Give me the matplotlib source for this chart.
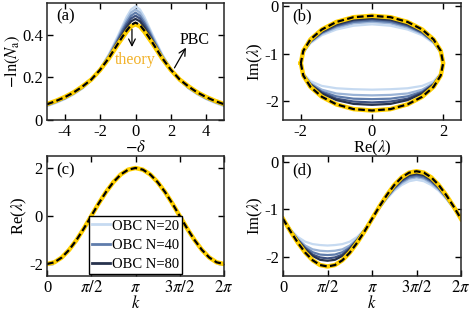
import numpy as np
import matplotlib
matplotlib.use("Agg")
import matplotlib.pyplot as plt

plt.rcParams['font.family'] = ['Liberation Serif', 'DejaVu Serif']
plt.rcParams['mathtext.fontset'] = 'stix'
plt.rcParams['axes.unicode_minus'] = False
plt.rcParams['font.size'] = 12

# ---- panel (a): -ln(Na) vs -delta ----
delta = [-5, -4.5, -4, -3.5, -3, -2.5, -2, -1.5, -1, -0.75, -0.5, -0.25, 0,
         0.25, 0.5, 0.75, 1, 1.5, 2, 2.5, 3, 3.5, 4, 4.5, 5]
lnNa_theory = [.075, .09, .108, .13, .158, .19, .235, .29, .355, .385, .415, .44, .45,
               .44, .415, .385, .355, .29, .235, .19, .158, .13, .108, .09, .075]
lnNa_pbc = [.074, .089, .107, .129, .157, .19, .236, .292, .358, .39, .42, .447, .458,
            .447, .42, .39, .358, .292, .236, .19, .157, .129, .107, .089, .074]
lnNa_obc = {
    20: [.065, .08, .098, .12, .148, .185, .24, .31, .395, .44, .485, .52, .535,
         .52, .485, .44, .395, .31, .24, .185, .148, .12, .098, .08, .065],
    30: [.068, .083, .10, .123, .15, .187, .24, .305, .385, .43, .47, .505, .52,
         .505, .47, .43, .385, .305, .24, .187, .15, .123, .10, .083, .068],
    40: [.07, .085, .102, .125, .152, .188, .238, .30, .378, .42, .458, .49, .505,
         .49, .458, .42, .378, .30, .238, .188, .152, .125, .102, .085, .07],
    60: [.072, .087, .104, .127, .154, .189, .237, .297, .371, .41, .447, .477, .49,
         .477, .447, .41, .371, .297, .237, .189, .154, .127, .104, .087, .072],
    80: [.073, .088, .106, .128, .156, .19, .236, .294, .365, .40, .436, .464, .475,
         .464, .436, .40, .365, .294, .236, .19, .156, .128, .106, .088, .073],
}

# ---- panels (b)-(d): spectrum vs k, k = j*pi/12 ----
k = np.arange(25) * np.pi / 12
re_lam = [-2.00, -1.93, -1.73, -1.41, -1.00, -0.52, 0.00, 0.52, 1.00, 1.41, 1.73, 1.93, 2.00,
          1.93, 1.73, 1.41, 1.00, 0.52, 0.00, -0.52, -1.00, -1.41, -1.73, -1.93, -2.00]
im_theory = [-1.20, -1.46, -1.70, -1.91, -2.07, -2.17, -2.20, -2.17, -2.07, -1.91, -1.70, -1.46, -1.20,
             -0.94, -0.70, -0.49, -0.33, -0.23, -0.20, -0.23, -0.33, -0.49, -0.70, -0.94, -1.20]
im_obc = {
    20: [-1.20, -1.42, -1.58, -1.68, -1.73, -1.75, -1.76, -1.75, -1.73, -1.68, -1.58, -1.42, -1.20,
         -0.98, -0.78, -0.61, -0.49, -0.41, -0.38, -0.41, -0.49, -0.61, -0.78, -0.98, -1.20],
    30: [-1.20, -1.43, -1.62, -1.76, -1.84, -1.87, -1.88, -1.87, -1.84, -1.76, -1.62, -1.43, -1.20,
         -0.97, -0.76, -0.58, -0.45, -0.36, -0.33, -0.36, -0.45, -0.58, -0.76, -0.97, -1.20],
    40: [-1.20, -1.44, -1.64, -1.80, -1.90, -1.95, -1.96, -1.95, -1.90, -1.80, -1.64, -1.44, -1.20,
         -0.96, -0.75, -0.56, -0.42, -0.33, -0.30, -0.33, -0.42, -0.56, -0.75, -0.96, -1.20],
    60: [-1.20, -1.44, -1.65, -1.82, -1.95, -2.01, -2.03, -2.01, -1.95, -1.82, -1.65, -1.44, -1.20,
         -0.96, -0.74, -0.55, -0.40, -0.30, -0.27, -0.30, -0.40, -0.55, -0.74, -0.96, -1.20],
    80: [-1.20, -1.44, -1.65, -1.84, -1.98, -2.06, -2.08, -2.06, -1.98, -1.84, -1.65, -1.43, -1.20,
         -0.96, -0.73, -0.53, -0.38, -0.28, -0.25, -0.28, -0.38, -0.53, -0.73, -0.96, -1.20],
}

obc_colors = {20: '#c6daf1', 30: '#9ab3d6', 40: '#5f7cab', 60: '#3e5281', 80: '#27324d'}
legend_N = [20, 40, 80]
yellow = '#ffd000'
k_ticks = [0, np.pi / 2, np.pi, 3 * np.pi / 2, 2 * np.pi]
k_labels = ['0', r'$\pi/2$', r'$\pi$', r'$3\pi/2$', r'$2\pi$']

W, H = 471, 316
fig = plt.figure(figsize=(W / 100, H / 100), dpi=100)

def box(l, t, r, b):
    return [l / W, 1 - b / H, (r - l) / W, (b - t) / H]

ax_a = fig.add_axes(box(47, 3, 224, 120))
ax_b = fig.add_axes(box(283, 3, 461, 120))
ax_c = fig.add_axes(box(47, 156, 224, 276))
ax_d = fig.add_axes(box(283, 156, 461, 276))

for ax in [ax_a, ax_b, ax_c, ax_d]:
    ax.tick_params(direction='in', top=True, right=True, length=4, width=1, pad=3)
    for s in ax.spines.values():
        s.set_linewidth(1.1)
        s.set_color('#262626')

# (a)
for N, y in lnNa_obc.items():
    ax_a.plot(delta, y, color=obc_colors[N], lw=1.6)
ax_a.plot(delta, lnNa_theory, color=yellow, lw=3.2)
ax_a.plot(delta, lnNa_pbc, color='k', lw=1.6, ls=(0, (3, 1.5)))
ax_a.set_xlim(-5, 5)
ax_a.set_ylim(0, 0.55)
ax_a.set_xticks([-4, -2, 0, 2, 4])
ax_a.set_yticks([0, 0.2, 0.4])
ax_a.set_yticklabels(['0', '0.2', '0.4'])
ax_a.set_xlabel('$\u2212\\delta$', labelpad=0)
ax_a.set_ylabel('$\u2212\\ln(N_{\\rm a})$', labelpad=0)
ax_a.text(0.05, 0.95, '(a)', transform=ax_a.transAxes, va='top', ha='left')
ax_a.annotate('', xy=(-0.2, 0.33), xytext=(-0.2, 0.44),
              arrowprops=dict(arrowstyle='->', color='k', lw=0.9))
ax_a.text(0.0, 0.28, 'theory', color='#f2b22a', ha='center', va='center', fontsize=11.5)
ax_a.annotate('', xy=(2.85, 0.34), xytext=(2.2, 0.245),
              arrowprops=dict(arrowstyle='->', color='k', lw=0.9, shrinkA=0, shrinkB=0))
ax_a.text(3.35, 0.375, 'PBC', color='k', ha='center', va='center', fontsize=11.5)

# (b)
for N, y in im_obc.items():
    ax_b.plot(re_lam, y, color=obc_colors[N], lw=1.6)
ax_b.plot(re_lam, im_theory, color=yellow, lw=3.2)
ax_b.plot(re_lam, im_theory, color='k', lw=1.6, ls=(0, (3, 1.5)))
ax_b.set_xlim(-2.5, 2.5)
ax_b.set_ylim(-2.4, 0.07)
ax_b.set_xticks([-2, 0, 2])
ax_b.set_yticks([-2, -1, 0])
ax_b.set_xlabel(r'Re($\lambda$)', labelpad=-1)
ax_b.set_ylabel(r'Im($\lambda$)', labelpad=0)
ax_b.text(0.05, 0.95, '(b)', transform=ax_b.transAxes, va='top', ha='left')

# (c)
for N, y in im_obc.items():
    ax_c.plot(k, re_lam, color=obc_colors[N], lw=1.6,
              label='OBC N=%d' % N if N in legend_N else None)
ax_c.plot(k, re_lam, color=yellow, lw=3.2)
ax_c.plot(k, re_lam, color='k', lw=1.6, ls=(0, (3, 1.5)))
ax_c.set_xlim(0, 2 * np.pi)
ax_c.set_ylim(-2.5, 2.5)
ax_c.set_xticks(k_ticks)
ax_c.set_xticklabels(k_labels)
ax_c.set_yticks([-2, 0, 2])
ax_c.set_xlabel(r'$k$', labelpad=-1)
ax_c.set_ylabel(r'Re($\lambda$)', labelpad=0)
ax_c.text(0.05, 0.95, '(c)', transform=ax_c.transAxes, va='top', ha='left')
leg = ax_c.legend(loc='lower center', bbox_to_anchor=(0.5, 0.02), fancybox=False,
                  framealpha=1, edgecolor='k', handlelength=1.2, handletextpad=0.15,
                  labelspacing=0.4, borderpad=0.2, borderaxespad=0, fontsize=10.5)
leg.get_frame().set_linewidth(1.0)
for h in leg.get_lines():
    h.set_linewidth(2)

# (d)
for N, y in im_obc.items():
    ax_d.plot(k, y, color=obc_colors[N], lw=1.6)
ax_d.plot(k, im_theory, color=yellow, lw=3.2)
ax_d.plot(k, im_theory, color='k', lw=1.6, ls=(0, (3, 1.5)))
ax_d.set_xlim(0, 2 * np.pi)
ax_d.set_ylim(-2.4, 0.12)
ax_d.set_xticks(k_ticks)
ax_d.set_xticklabels(k_labels)
ax_d.set_yticks([-2, -1, 0])
ax_d.set_xlabel(r'$k$', labelpad=-1)
ax_d.set_ylabel(r'Im($\lambda$)', labelpad=0)
ax_d.text(0.05, 0.95, '(d)', transform=ax_d.transAxes, va='top', ha='left')

fig.savefig('out.png', dpi=100)
